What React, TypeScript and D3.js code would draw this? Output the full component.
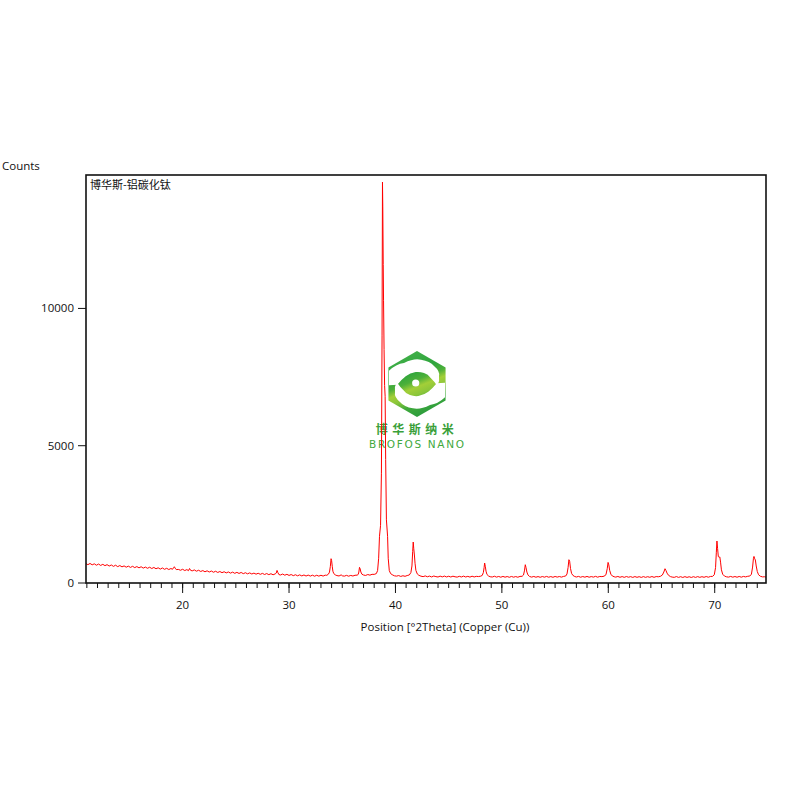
import React from 'react';
import * as d3 from 'd3';

// XRD pattern: [2theta, counts]
const lowAngle: [number, number][] = [
  [10.92, 705], [11.1, 668], [11.3, 712], [11.5, 662], [11.7, 698], [11.9, 648], [12.1, 690], [12.3, 640],
  [12.5, 680], [12.7, 632], [12.9, 668], [13.1, 618], [13.3, 656], [13.5, 606], [13.7, 648], [13.9, 596],
  [14.1, 636], [14.3, 588], [14.5, 622], [14.7, 576], [14.9, 614], [15.1, 568], [15.3, 608], [15.5, 560],
  [15.7, 598], [15.9, 552], [16.1, 592], [16.3, 542], [16.5, 580], [16.7, 536], [16.9, 574], [17.1, 528],
  [17.3, 566], [17.5, 518], [17.7, 554], [17.9, 506], [18.1, 548], [18.3, 498], [18.5, 536], [18.7, 490],
  [18.9, 528], [19.05, 500], [19.15, 560], [19.22, 592], [19.3, 540], [19.4, 488], [19.6, 494], [19.8, 464],
  [20.0, 500], [20.2, 454], [20.4, 488], [20.55, 448], [20.65, 528], [20.75, 462], [20.9, 442], [21.1, 476],
  [21.3, 430], [21.5, 464], [21.7, 420], [21.9, 452], [22.1, 408], [22.3, 444], [22.5, 400], [22.7, 436],
  [22.9, 392], [23.1, 428], [23.3, 384], [23.5, 418], [23.7, 376], [23.9, 410], [24.1, 368], [24.3, 402],
  [24.5, 360], [24.7, 396], [24.9, 352], [25.1, 388], [25.3, 348], [25.5, 384], [25.7, 340], [25.9, 374],
  [26.1, 334], [26.3, 368], [26.5, 328], [26.7, 360], [26.9, 322], [27.1, 354], [27.3, 316], [27.5, 350],
  [27.7, 310], [27.9, 344], [28.1, 304], [28.3, 338], [28.5, 300], [28.7, 332], [28.8, 362], [28.87, 458],
  [28.95, 380], [29.05, 306], [29.2, 292], [29.4, 326], [29.6, 284], [29.8, 316], [30.0, 276], [30.2, 308],
  [30.4, 268], [30.6, 300], [30.8, 262], [31.0, 296], [31.2, 258], [31.4, 292], [31.6, 254], [31.8, 288],
  [32.0, 252], [32.2, 284], [32.4, 248], [32.6, 282], [32.8, 250], [33.0, 282], [33.2, 252], [33.4, 286],
];

const mainRegion: [number, number][] = [
  [33.55, 280], [33.7, 322], [33.8, 395], [33.88, 600], [33.95, 885], [34.0, 820], [34.06, 610], [34.12, 430],
  [34.2, 345], [34.35, 295], [34.5, 270], [34.7, 256], [34.9, 296], [35.0, 262], [35.2, 250], [35.4, 278],
  [35.6, 248], [35.8, 276], [36.0, 254], [36.2, 282], [36.4, 286], [36.5, 312], [36.56, 400], [36.62, 570],
  [36.68, 520], [36.75, 400], [36.85, 320], [37.0, 290], [37.2, 276], [37.4, 308], [37.6, 286], [37.8, 316],
  [38.0, 314], [38.2, 342], [38.32, 450], [38.42, 900], [38.5, 1700], [38.6, 2100], [38.68, 4000], [38.74, 9000],
  [38.78, 14600], [38.81, 13700], [38.85, 11600], [38.88, 10300], [38.93, 8500], [38.98, 7200], [39.03, 6800],
  [39.08, 4500], [39.15, 2300], [39.26, 1700], [39.32, 900], [39.42, 450], [39.55, 340], [39.75, 290],
  [39.9, 262], [40.1, 250], [40.3, 270], [40.5, 240], [40.7, 264], [40.9, 244], [41.1, 272], [41.3, 292],
  [41.45, 380], [41.55, 620], [41.62, 1150], [41.67, 1492], [41.72, 1250], [41.78, 1020], [41.84, 720],
  [41.92, 460], [42.05, 330], [42.2, 280], [42.4, 248],
];

const highAngle: [number, number][] = [
  [42.6, 232], [42.8, 258], [43.0, 226], [43.2, 252], [43.4, 220], [43.6, 254], [43.8, 232], [44.0, 218],
  [44.2, 250], [44.4, 222], [44.6, 252], [44.8, 220], [45.0, 246], [45.2, 218], [45.4, 248], [45.6, 226],
  [45.8, 214], [46.0, 244], [46.2, 220], [46.4, 250], [46.6, 218], [46.8, 242], [47.0, 214], [47.2, 248],
  [47.4, 220], [47.6, 242], [47.8, 234], [48.0, 248], [48.15, 275], [48.26, 380], [48.33, 560], [48.38, 728],
  [48.44, 610], [48.51, 430], [48.6, 310], [48.75, 255], [48.9, 228], [49.1, 218], [49.3, 246], [49.5, 214],
  [49.7, 238], [49.9, 210], [50.1, 240], [50.3, 212], [50.5, 236], [50.7, 208], [50.9, 238], [51.1, 212],
  [51.3, 234], [51.5, 210], [51.7, 240], [51.9, 244], [52.03, 290], [52.12, 440], [52.2, 666], [52.27, 560],
  [52.35, 400], [52.45, 295], [52.6, 238], [52.8, 214], [53.0, 238], [53.2, 210], [53.4, 234], [53.6, 208],
  [53.8, 236], [54.0, 212], [54.2, 240], [54.4, 210], [54.6, 234], [54.8, 208], [55.0, 238], [55.2, 214],
  [55.4, 236], [55.6, 214], [55.8, 240], [56.0, 256], [56.12, 330], [56.22, 560], [56.3, 848], [56.37, 790],
  [56.45, 530], [56.55, 350], [56.68, 275], [56.85, 236], [57.0, 218], [57.2, 240], [57.4, 210], [57.6, 236],
  [57.8, 212], [58.0, 240], [58.2, 210], [58.4, 234], [58.6, 214], [58.8, 242], [59.0, 212], [59.2, 238],
  [59.4, 232], [59.6, 248], [59.78, 300], [59.9, 520], [59.98, 750], [60.05, 660], [60.13, 460], [60.24, 320],
  [60.38, 255], [60.55, 228], [60.7, 214], [60.9, 238], [61.1, 208], [61.3, 234], [61.5, 206], [61.7, 236],
  [61.9, 210], [62.1, 232], [62.3, 204], [62.5, 234], [62.7, 207], [62.9, 230], [63.1, 204], [63.3, 233],
  [63.5, 206], [63.7, 230], [63.9, 208], [64.1, 236], [64.3, 207], [64.5, 234], [64.7, 226], [64.9, 244],
  [65.08, 290], [65.22, 400], [65.33, 520], [65.42, 455], [65.52, 360], [65.66, 280], [65.85, 232], [66.0, 216],
  [66.2, 206], [66.4, 234], [66.6, 204], [66.8, 230], [67.0, 202], [67.2, 232], [67.4, 204], [67.6, 228],
  [67.8, 202], [68.0, 230], [68.2, 204], [68.4, 233], [68.6, 206], [68.8, 230], [69.0, 208], [69.2, 236],
  [69.4, 210], [69.6, 238], [69.8, 242], [69.96, 300], [70.08, 560], [70.15, 1100], [70.21, 1529], [70.27, 1260],
  [70.34, 960], [70.42, 940], [70.48, 950], [70.55, 760], [70.63, 480], [70.75, 320], [70.92, 252], [71.1, 226],
  [71.3, 214], [71.5, 240], [71.7, 212], [71.9, 236], [72.1, 210], [72.3, 238], [72.5, 212], [72.7, 240],
  [72.9, 222], [73.1, 244], [73.3, 254], [73.45, 320], [73.56, 580], [73.64, 900], [73.69, 968], [73.76, 880],
  [73.82, 840], [73.9, 620], [74.0, 420], [74.12, 300], [74.3, 244], [74.5, 222], [74.7, 226], [74.82, 214],
];

const xDomain = [10.92, 74.82];
const yDomain = [0, 14860];
const xMajorTicks = [20, 30, 40, 50, 60, 70];
const xMinorTicks = d3.range(11, 75, 1);
const yTicks = [0, 5000, 10000];

const sampleName = '博华斯-铝碳化钛';
const yTitle = 'Counts';
const xTitle = 'Position [°2Theta] (Copper (Cu))';

const left = 86, right = 766, top = 175, bottom = 583;
const uiFont = '"Open Sans", "Noto Sans", sans-serif';

// upper swirl of the logo; the lower one is its point reflection about the centre
const swirl = 'M389,370.7 Q396,364 404,363 Q414,358 421,359.7 Q430,361 434,366 Q440,371 439,376 Q440,381 437.3,386 '
  + 'Q434,381 430.7,378 Q428,374 424,373 Q420,371.5 415.7,372 Q410,373 405.7,376.3 Q401,380 397.3,384.7 L389,385.3 Z';

const App: React.FC = () => {
  const x = d3.scaleLinear().domain(xDomain).range([left, right]);
  const y = d3.scaleLinear().domain(yDomain).range([bottom, top]);
  const pattern = [...lowAngle, ...mainRegion, ...highAngle];
  const line = d3.line<[number, number]>()
    .x(d => x(d[0]))
    .y(d => y(d[1]));

  // logo geometry (pointy-top hexagon)
  const cx = 417, cy = 384, r = 33;
  const hex = d3.range(6).map(i => {
    const a = (Math.PI / 180) * (-90 + 60 * i);
    return `${cx + r * Math.cos(a)},${cy + r * Math.sin(a)}`;
  }).join(' ');

  return (
    <svg width={800} height={800} style={{ position: 'absolute', left: 0, top: 0, background: '#fff' }}>
      <defs>
        <linearGradient id="hexGrad" x1="0.2" y1="0" x2="0.55" y2="1">
          <stop offset="0%" stopColor="#45b24b" />
          <stop offset="35%" stopColor="#2fa53d" />
          <stop offset="48%" stopColor="#4db03a" />
          <stop offset="58%" stopColor="#a3cf38" />
          <stop offset="68%" stopColor="#8cc63a" />
          <stop offset="82%" stopColor="#3fa93b" />
          <stop offset="100%" stopColor="#2a9b3d" />
        </linearGradient>
        <clipPath id="plotClip">
          <rect x={left} y={top} width={right - left} height={bottom - top} />
        </clipPath>
        <clipPath id="hexClip">
          <polygon points={hex} />
        </clipPath>
      </defs>

      {/* watermark */}
      <g>
        <polygon points={hex} fill="url(#hexGrad)" />
        <g clipPath="url(#hexClip)">
          <path d={swirl} fill="#fff" />
          <path d={swirl} fill="#fff" transform={`rotate(180 ${cx} ${cy})`} />
        </g>
        <circle cx={cx - 1.3} cy={cy - 1} r={3.6} fill="#fff" />
        <text x={cx} y={434} textAnchor="middle" fontFamily='"Noto Sans CJK SC", sans-serif' fontSize={12}
          fontWeight={700} fill="#3a9f3a" letterSpacing={4.5}>博华斯纳米</text>
        <text x={369} y={448} fontFamily='"DejaVu Sans", sans-serif' fontSize={10.5} fill="#3fa83d"
          textLength={95} lengthAdjust="spacing">BROFOS NANO</text>
      </g>

      {/* pattern */}
      <path d={line(pattern) ?? ''} fill="none" stroke="#ff0000" strokeWidth={1} clipPath="url(#plotClip)" />

      {/* frame */}
      <rect x={left} y={top} width={right - left} height={bottom - top} fill="none" stroke="#111" strokeWidth={1.6} />

      {/* x ticks */}
      {xMinorTicks.map(t => (
        <line key={`m${t}`} x1={x(t)} x2={x(t)} y1={bottom} y2={bottom + 5} stroke="#111" strokeWidth={1} />
      ))}
      {xMajorTicks.map(t => (
        <g key={`M${t}`}>
          <line x1={x(t)} x2={x(t)} y1={bottom} y2={bottom + 10} stroke="#111" strokeWidth={1} />
          <text x={x(t)} y={609} textAnchor="middle" fontFamily={uiFont} fontSize={11.5} fill="#111">{t}</text>
        </g>
      ))}

      {/* y ticks */}
      {yTicks.map(t => (
        <g key={`y${t}`}>
          <line x1={left - 8} x2={left} y1={y(t)} y2={y(t)} stroke="#111" strokeWidth={1} />
          <text x={74} y={y(t) + 4} textAnchor="end" fontFamily={uiFont} fontSize={11.5} fill="#111">{t}</text>
        </g>
      ))}

      <text x={2} y={170} fontFamily={uiFont} fontSize={11.5} fill="#111">{yTitle}</text>
      <text x={90} y={189} fontFamily='"Noto Sans CJK SC", sans-serif' fontSize={11} fill="#111">{sampleName}</text>
      <text x={445} y={631} textAnchor="middle" fontFamily={uiFont} fontSize={11.5} fill="#111">{xTitle}</text>
    </svg>
  );
};

export default App;
